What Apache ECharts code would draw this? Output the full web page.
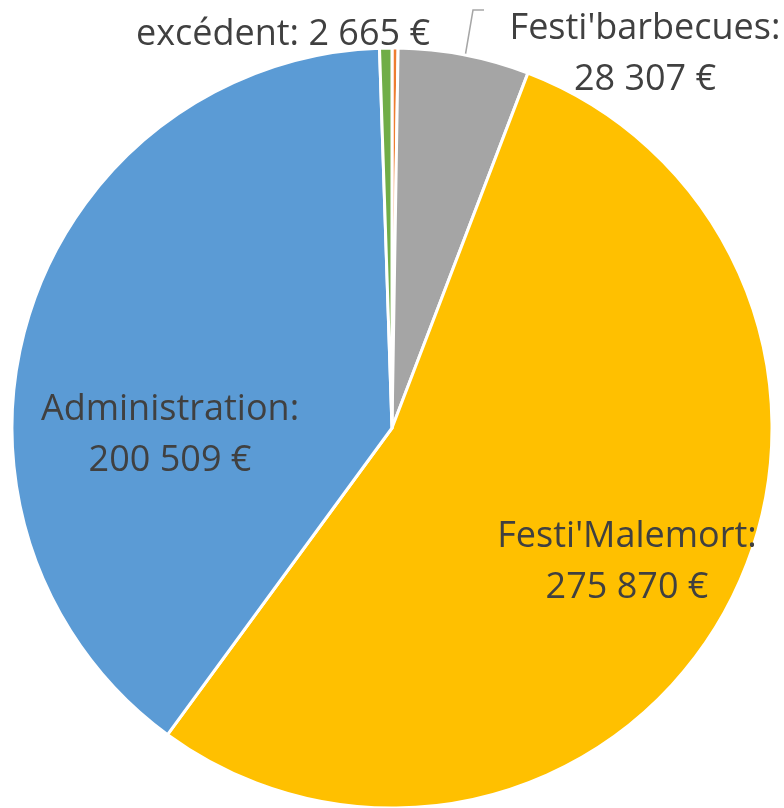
<!DOCTYPE html>
<html>
<head>
<meta charset="utf-8">
<script src="https://cdn.jsdelivr.net/npm/echarts@6/dist/echarts.min.js"></script>
<style>html,body{margin:0;padding:0;background:#fff;}#c{width:784px;height:808px;}</style>
</head>
<body>
<div id="c"></div>
<script>
// Data (clockwise from 12 o'clock)
const categories = ["Autre", "Festi'barbecues", "Festi'Malemort", "Administration", "excédent"];
const values = [1300, 28307, 275870, 200509, 2665];
const colors = ["#ED7D31", "#A5A5A5", "#FFC000", "#5B9BD5", "#70AD47"];
const showLabel = [false, true, true, true, true];
const labelTwoLines = [false, true, true, true, false];
// label anchor positions (layout, not data)
const labelPos = [null, [645, 54], [627, 562], [170, 435], [283, 35]];

function fmt(v) {
  return String(v).replace(/\B(?=(\d{3})+(?!\d))/g, ' ') + ' €';
}

const chart = echarts.init(document.getElementById('c'), null, {renderer: 'canvas'});
const data = categories.map((n, i) => ({
  name: n,
  value: values[i],
  itemStyle: {color: colors[i]},
  label: {show: showLabel[i]},
  labelLine: {show: i === 1}
}));

chart.setOption({
  animation: false,
  series: [{
    type: 'pie',
    radius: 380,
    center: [392, 428],
    startAngle: 90,
    clockwise: true,
    avoidLabelOverlap: false,
    itemStyle: {borderColor: '#fff', borderWidth: 3},
    label: {
      show: true,
      position: 'outside',
      fontFamily: 'Open Sans',
      fontSize: 36,
      lineHeight: 51,
      color: '#404040',
      align: 'center',
      formatter: p => labelTwoLines[p.dataIndex] ? p.name + ':\n' + fmt(p.value) : p.name + ': ' + fmt(p.value)
    },
    labelLine: {lineStyle: {color: '#A6A6A6', width: 1.5}},
    labelLayout: function (params) {
      const pos = labelPos[params.dataIndex];
      if (!pos) return {};
      const res = {x: pos[0], y: pos[1], align: 'center', verticalAlign: 'middle'};
      if (params.dataIndex === 1) {
        res.labelLinePoints = [[465, 57], [473, 10], [484, 10]];
      }
      return res;
    },
    data: data
  }]
});
</script>
</body>
</html>
